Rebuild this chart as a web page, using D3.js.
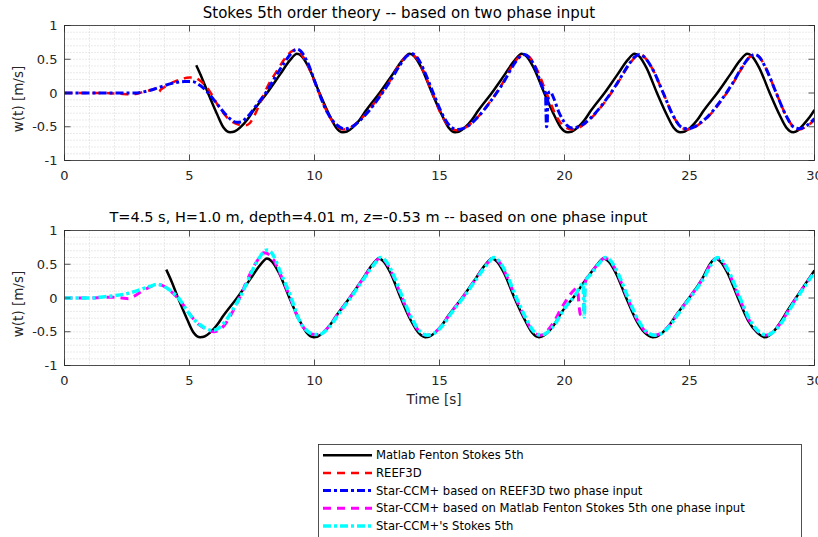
<!DOCTYPE html>
<html><head><meta charset="utf-8">
<script src="https://cdn.jsdelivr.net/npm/d3@7"></script>
<style>body{margin:0;background:#fff}svg{display:block;font-family:"DejaVu Sans",sans-serif}</style>
</head><body><svg id="c" width="818" height="537"></svg>
<script>
const xTicks=[0,5,10,15,20,25,30];
const xTickLabels=["0","5","10","15","20","25","30"];
const yTicks=[-1,-0.5,0,0.5,1];
const yTickLabels=["-1","-0.5","0","0.5","1"];
const titleTop="Stokes 5th order theory -- based on two phase input";
const titleBottom="T=4.5 s, H=1.0 m, depth=4.01 m, z=-0.53 m -- based on one phase input";
const yLabel="w(t) [m/s]";
const xLabel="Time [s]";
const legendLabels=["Matlab Fenton Stokes 5th","REEF3D","Star-CCM+ based on REEF3D two phase input","Star-CCM+ based on Matlab Fenton Stokes 5th one phase input","Star-CCM+'s Stokes 5th"];

const fentonTop=[[5.27,0.41],[5.5,0.22],[5.72,0.02],[6.1,-0.31],[6.36,-0.51],[6.63,-0.58],[6.8,-0.57],[7.03,-0.51],[7.3,-0.40],[7.56,-0.26],[8.1,0.0],[8.63,0.28],[9.03,0.49],[9.3,0.58],[9.5,0.54],[9.77,0.38],[10.2,0.0],[10.6,-0.33],[10.86,-0.51],[11.13,-0.58],[11.3,-0.57],[11.53,-0.51],[11.8,-0.40],[12.06,-0.26],[12.6,0.0],[13.13,0.28],[13.53,0.49],[13.8,0.58],[14.0,0.54],[14.27,0.38],[14.7,0.0],[15.1,-0.33],[15.36,-0.51],[15.62,-0.58],[15.79,-0.57],[16.02,-0.51],[16.29,-0.40],[16.55,-0.26],[17.09,0.0],[17.62,0.28],[18.02,0.49],[18.29,0.58],[18.49,0.54],[18.76,0.38],[19.19,0.0],[19.59,-0.33],[19.85,-0.51],[20.13,-0.58],[20.3,-0.57],[20.53,-0.51],[20.8,-0.40],[21.06,-0.26],[21.6,0.0],[22.13,0.28],[22.53,0.49],[22.8,0.58],[23.0,0.54],[23.27,0.38],[23.7,0.0],[24.1,-0.33],[24.36,-0.51],[24.64,-0.58],[24.81,-0.57],[25.04,-0.51],[25.31,-0.40],[25.57,-0.26],[26.11,0.0],[26.64,0.28],[27.04,0.49],[27.31,0.58],[27.51,0.54],[27.78,0.38],[28.21,0.0],[28.61,-0.33],[28.87,-0.51],[29.15,-0.58],[29.32,-0.56],[29.55,-0.47],[29.8,-0.36],[30.0,-0.25]];

const reefTop=[[0,0],[1.5,0],[2.2,-0.01],[2.6,-0.02],[2.9,-0.01],[3.2,0.02],[3.5,0.05],[3.72,0.07],[3.78,0.02],[3.85,0.05],[4.1,0.11],[4.4,0.17],[4.7,0.21],[5.0,0.23],[5.16,0.23],[5.4,0.19],[5.7,0.08],[5.9,-0.03],[6.1,-0.16],[6.5,-0.36],[6.9,-0.46],[7.23,-0.48],[7.4,-0.45],[7.56,-0.36],[7.8,-0.17],[8.1,0.08],[8.5,0.33],[8.9,0.55],[9.1,0.62],[9.23,0.64],[9.4,0.61],[9.65,0.47],[10.1,0.08],[10.5,-0.28],[10.85,-0.48],[11.15,-0.54],[11.4,-0.52],[11.7,-0.44],[12.0,-0.33],[12.45,-0.12],[12.95,0.14],[13.4,0.42],[13.65,0.54],[13.85,0.57],[14.05,0.53],[14.3,0.37],[14.7,0.01],[15.1,-0.34],[15.4,-0.5],[15.68,-0.55],[15.95,-0.53],[16.2,-0.47],[16.5,-0.37],[17.0,-0.14],[17.5,0.13],[17.9,0.4],[18.2,0.54],[18.4,0.57],[18.6,0.53],[18.87,0.37],[19.3,-0.02],[19.7,-0.36],[20.0,-0.5],[20.3,-0.54],[20.55,-0.52],[20.8,-0.46],[21.1,-0.36],[21.6,-0.14],[22.1,0.13],[22.55,0.4],[22.8,0.52],[23.0,0.57],[23.2,0.53],[23.5,0.37],[23.95,0.0],[24.35,-0.34],[24.65,-0.5],[24.9,-0.54],[25.15,-0.52],[25.4,-0.46],[25.7,-0.37],[26.2,-0.15],[26.7,0.12],[27.15,0.4],[27.4,0.53],[27.6,0.57],[27.8,0.53],[28.05,0.37],[28.47,0.0],[28.87,-0.34],[29.15,-0.5],[29.4,-0.54],[29.65,-0.5],[30.0,-0.4]];

const starTwoTop=[[0,0],[2,0],[2.8,0.0],[3.2,0.02],[3.6,0.06],[4.0,0.11],[4.4,0.15],[4.8,0.17],[5.1,0.17],[5.43,0.11],[5.75,0.0],[6.1,-0.16],[6.5,-0.34],[6.9,-0.435],[7.05,-0.43],[7.3,-0.36],[7.7,-0.17],[8.1,0.03],[8.45,0.25],[8.76,0.43],[9.05,0.58],[9.3,0.65],[9.45,0.62],[9.7,0.47],[10.1,0.08],[10.5,-0.28],[10.88,-0.47],[11.2,-0.53],[11.45,-0.51],[11.75,-0.43],[12.05,-0.32],[12.5,-0.11],[13.0,0.16],[13.45,0.43],[13.7,0.55],[13.9,0.58],[14.1,0.53],[14.35,0.36],[14.75,0.0],[15.15,-0.34],[15.45,-0.5],[15.72,-0.54],[15.98,-0.52],[16.25,-0.46],[16.55,-0.35],[17.05,-0.12],[17.55,0.15],[17.95,0.41],[18.2,0.53],[18.4,0.57],[18.6,0.52],[18.85,0.36],[19.0,0.2],[19.16,0.05],[19.24,0.0],[19.26,-0.3],[19.28,-0.5],[19.31,-0.46],[19.33,-0.1],[19.36,0.0],[19.43,0.02],[19.55,-0.06],[19.76,-0.27],[20.1,-0.48],[20.3,-0.52],[20.55,-0.5],[20.8,-0.45],[21.1,-0.35],[21.6,-0.13],[22.1,0.14],[22.55,0.41],[22.8,0.53],[23.0,0.57],[23.2,0.53],[23.5,0.37],[23.95,0.0],[24.35,-0.34],[24.65,-0.5],[24.9,-0.53],[25.15,-0.51],[25.4,-0.45],[25.7,-0.36],[26.2,-0.14],[26.7,0.13],[27.15,0.41],[27.4,0.53],[27.6,0.57],[27.8,0.53],[28.05,0.37],[28.47,0.0],[28.87,-0.34],[29.15,-0.5],[29.4,-0.53],[29.7,-0.48],[30,-0.38]];

const fentonBottom=[[4.07,0.42],[4.3,0.23],[4.52,0.02],[4.9,-0.31],[5.16,-0.51],[5.43,-0.58],[5.6,-0.57],[5.83,-0.51],[6.1,-0.40],[6.36,-0.26],[6.9,0.0],[7.43,0.28],[7.83,0.49],[8.1,0.585],[8.3,0.54],[8.57,0.38],[9.0,0.0],[9.4,-0.33],[9.68,-0.51],[9.96,-0.58],[10.13,-0.57],[10.36,-0.51],[10.62,-0.40],[10.88,-0.26],[11.4,0.0],[11.92,0.28],[12.31,0.49],[12.57,0.585],[12.77,0.54],[13.03,0.38],[13.45,0.0],[13.85,-0.33],[14.15,-0.51],[14.43,-0.58],[14.6,-0.57],[14.83,-0.51],[15.1,-0.40],[15.36,-0.26],[15.9,0.0],[16.43,0.28],[16.83,0.49],[17.1,0.585],[17.3,0.54],[17.57,0.38],[18.0,0.0],[18.42,-0.33],[18.7,-0.51],[18.98,-0.58],[19.15,-0.56],[19.38,-0.49],[19.63,-0.37],[19.85,-0.23],[20.38,0.02],[20.85,0.27],[21.28,0.48],[21.56,0.585],[21.77,0.54],[22.04,0.38],[22.47,0.0],[22.87,-0.33],[23.2,-0.51],[23.53,-0.58],[23.7,-0.57],[23.93,-0.51],[24.2,-0.40],[24.46,-0.26],[24.98,0.0],[25.5,0.28],[25.8,0.49],[26.04,0.585],[26.24,0.54],[26.51,0.38],[26.94,0.0],[27.34,-0.33],[27.7,-0.51],[28.0,-0.58],[28.17,-0.56],[28.4,-0.48],[28.67,-0.34],[28.93,-0.18],[29.4,0.08],[30,0.41]];

const starOneBottom=[[0,0],[1.0,0.0],[1.6,0.01],[2.0,0.01],[2.3,0.0],[2.55,-0.01],[2.75,0.02],[3.1,0.1],[3.45,0.17],[3.75,0.2],[4.0,0.17],[4.25,0.1],[4.45,0.03],[4.6,-0.03],[4.9,-0.18],[5.2,-0.33],[5.6,-0.45],[5.97,-0.5],[6.2,-0.47],[6.4,-0.4],[6.7,-0.22],[7.0,0.0],[7.3,0.26],[7.56,0.46],[7.8,0.6],[7.97,0.67],[8.1,0.66],[8.3,0.6],[8.6,0.38],[9.0,0.03],[9.42,-0.36],[9.72,-0.5],[10.0,-0.54],[10.17,-0.54],[10.4,-0.49],[10.67,-0.38],[10.93,-0.24],[11.45,0.02],[11.97,0.3],[12.36,0.5],[12.62,0.59],[12.82,0.55],[13.08,0.38],[13.5,0.0],[13.9,-0.33],[14.2,-0.5],[14.48,-0.55],[14.65,-0.54],[14.88,-0.49],[15.15,-0.38],[15.41,-0.24],[15.95,0.02],[16.48,0.3],[16.88,0.5],[17.15,0.59],[17.35,0.55],[17.62,0.38],[18.05,0.0],[18.47,-0.33],[18.75,-0.5],[19.05,-0.55],[19.3,-0.49],[19.6,-0.34],[19.83,-0.18],[20.1,-0.02],[20.36,0.11],[20.47,0.14],[20.53,0.1],[20.58,-0.1],[20.63,-0.24],[20.7,-0.26],[20.76,-0.18],[20.8,0.05],[20.85,0.26],[21.05,0.36],[21.33,0.5],[21.6,0.59],[21.82,0.55],[22.09,0.38],[22.52,0.0],[22.92,-0.33],[23.25,-0.5],[23.58,-0.55],[23.75,-0.54],[23.98,-0.49],[24.25,-0.38],[24.51,-0.24],[25.03,0.02],[25.55,0.3],[25.85,0.5],[26.09,0.59],[26.29,0.55],[26.56,0.38],[26.99,0.0],[27.39,-0.33],[27.75,-0.5],[28.05,-0.55],[28.22,-0.53],[28.45,-0.46],[28.72,-0.33],[28.98,-0.17],[29.45,0.1],[30,0.39]];

const starStokesBottom=[[0,0],[1.0,0.0],[1.6,0.02],[2.0,0.035],[2.5,0.065],[3.0,0.12],[3.4,0.17],[3.7,0.2],[3.95,0.18],[4.2,0.12],[4.43,0.05],[4.56,0.0],[4.85,-0.16],[5.16,-0.31],[5.56,-0.43],[5.9,-0.48],[6.15,-0.45],[6.5,-0.31],[6.75,-0.16],[7.03,0.02],[7.3,0.23],[7.56,0.44],[7.8,0.6],[7.98,0.69],[8.12,0.71],[8.3,0.66],[8.63,0.39],[9.03,0.04],[9.43,-0.36],[9.75,-0.5],[10.03,-0.54],[10.2,-0.54],[10.43,-0.49],[10.7,-0.38],[10.96,-0.24],[11.48,0.02],[12.0,0.3],[12.39,0.5],[12.65,0.6],[12.85,0.55],[13.11,0.38],[13.53,0.0],[13.93,-0.33],[14.23,-0.5],[14.51,-0.55],[14.68,-0.54],[14.91,-0.49],[15.18,-0.38],[15.44,-0.24],[15.98,0.02],[16.51,0.3],[16.91,0.5],[17.18,0.6],[17.38,0.55],[17.65,0.38],[18.08,0.0],[18.5,-0.33],[18.78,-0.5],[19.06,-0.55],[19.23,-0.53],[19.45,-0.46],[19.7,-0.34],[19.92,-0.2],[20.42,0.04],[20.74,0.21],[20.77,-0.1],[20.79,-0.28],[20.81,-0.05],[20.83,0.24],[21.05,0.35],[21.38,0.51],[21.63,0.6],[21.85,0.55],[22.12,0.38],[22.55,0.0],[22.95,-0.33],[23.28,-0.5],[23.61,-0.55],[23.78,-0.54],[24.01,-0.49],[24.28,-0.38],[24.54,-0.24],[25.06,0.02],[25.58,0.3],[25.88,0.5],[26.12,0.6],[26.32,0.55],[26.59,0.38],[27.02,0.0],[27.42,-0.33],[27.78,-0.5],[28.08,-0.55],[28.25,-0.53],[28.48,-0.46],[28.75,-0.33],[29.01,-0.17],[29.48,0.1],[30,0.38]];

const styles=[
 {color:"#000000",width:2.5,dash:null},
 {color:"#ff0000",width:2.5,dash:"8,6"},
 {color:"#0000ff",width:3,dash:"8,3,3,3"},
 {color:"#ff00ff",width:3,dash:"8,6"},
 {color:"#00ffff",width:3.5,dash:"8,3,3,3"}
];

const svg=d3.select("#c");
const x0=64.5,x1=814.5;
const panels=[
 {top:25.5,bottom:160.5,title:titleTop,titleX:399,titleY:17.5,titleSize:15,ylabY:99,series:[[fentonTop,0],[reefTop,1],[starTwoTop,2]],xlab:false},
 {top:230.5,bottom:365.5,title:titleBottom,titleX:378.5,titleY:221.5,titleSize:14.5,ylabY:304,series:[[fentonBottom,0],[starOneBottom,3],[starStokesBottom,4]],xlab:true}
];
const minorX=d3.range(0,31,1);
const minorY=d3.range(-10,11,1).map(v=>v/10);

panels.forEach((p,i)=>{
  const x=d3.scaleLinear().domain([0,30]).range([x0,x1]);
  const y=d3.scaleLinear().domain([-1,1]).range([p.bottom,p.top]);
  const g=svg.append("g");
  g.append("g").selectAll("line").data(minorX).join("line")
    .attr("x1",d=>x(d)).attr("x2",d=>x(d)).attr("y1",p.top).attr("y2",p.bottom)
    .attr("stroke","#cbcbcb").attr("stroke-width",0.8).attr("stroke-dasharray","1,2");
  g.append("g").selectAll("line").data(minorY).join("line")
    .attr("y1",d=>y(d)).attr("y2",d=>y(d)).attr("x1",x0).attr("x2",x1)
    .attr("stroke","#cbcbcb").attr("stroke-width",0.8).attr("stroke-dasharray","1,2");
  const cid="clip"+i;
  svg.append("clipPath").attr("id",cid).append("rect")
    .attr("x",x0).attr("y",p.top).attr("width",x1-x0).attr("height",p.bottom-p.top);
  const line=d3.line().x(d=>x(d[0])).y(d=>y(d[1])).curve(d3.curveMonotoneX);
  const lg=g.append("g").attr("clip-path",`url(#${cid})`);
  p.series.forEach(([data,si])=>{
    const s=styles[si];
    lg.append("path").datum(data).attr("d",line).attr("fill","none")
      .attr("stroke",s.color).attr("stroke-width",s.width)
      .attr("stroke-dasharray",s.dash).attr("stroke-linejoin","round");
  });
  const tl=6;
  const tk=g.append("g").attr("stroke","#262626").attr("stroke-width",0.8);
  xTicks.forEach(t=>{
    tk.append("line").attr("x1",x(t)).attr("x2",x(t)).attr("y1",p.bottom).attr("y2",p.bottom-tl);
    tk.append("line").attr("x1",x(t)).attr("x2",x(t)).attr("y1",p.top).attr("y2",p.top+tl);
  });
  yTicks.forEach(t=>{
    tk.append("line").attr("x1",x0).attr("x2",x0+tl).attr("y1",y(t)).attr("y2",y(t));
    tk.append("line").attr("x1",x1).attr("x2",x1-tl).attr("y1",y(t)).attr("y2",y(t));
  });
  g.append("rect").attr("x",x0).attr("y",p.top).attr("width",x1-x0).attr("height",p.bottom-p.top)
    .attr("fill","none").attr("stroke","#262626").attr("stroke-width",0.8);
  g.append("g").selectAll("text").data(xTicks).join("text")
    .attr("x",d=>x(d)).attr("y",p.bottom+19.5).attr("text-anchor","middle")
    .attr("font-size",13).attr("fill","#262626").text((d,k)=>xTickLabels[k]);
  g.append("g").selectAll("text").data(yTicks).join("text")
    .attr("x",x0-7).attr("y",d=>y(d)).attr("dy","0.36em").attr("text-anchor","end")
    .attr("font-size",13).attr("fill","#262626").text((d,k)=>yTickLabels[k]);
  g.append("text").attr("x",p.titleX).attr("y",p.titleY).attr("text-anchor","middle")
    .attr("font-size",p.titleSize).attr("fill","#000").text(p.title);
  g.append("text").attr("transform",`translate(23,${p.ylabY}) rotate(-90)`).attr("text-anchor","middle")
    .attr("font-size",13.5).attr("fill","#262626").text(yLabel);
  if(p.xlab){
    g.append("text").attr("x",434).attr("y",404).attr("text-anchor","middle")
      .attr("font-size",13.5).attr("fill","#262626").text(xLabel);
  }
});

const lgd=svg.append("g");
lgd.append("rect").attr("x",318.5).attr("y",444.5).attr("width",483).attr("height",100)
  .attr("fill","#fff").attr("stroke","#262626").attr("stroke-width",0.8);
legendLabels.forEach((lab,k)=>{
  const yy=455.3+k*17.65;
  const s=styles[k];
  lgd.append("line").attr("x1",323).attr("x2",372).attr("y1",yy).attr("y2",yy)
    .attr("stroke",s.color).attr("stroke-width",s.width).attr("stroke-dasharray",s.dash);
  lgd.append("text").attr("x",376).attr("y",yy).attr("dy","0.36em").attr("font-size",11.6)
    .attr("fill","#000").text(lab);
});
</script></body></html>
